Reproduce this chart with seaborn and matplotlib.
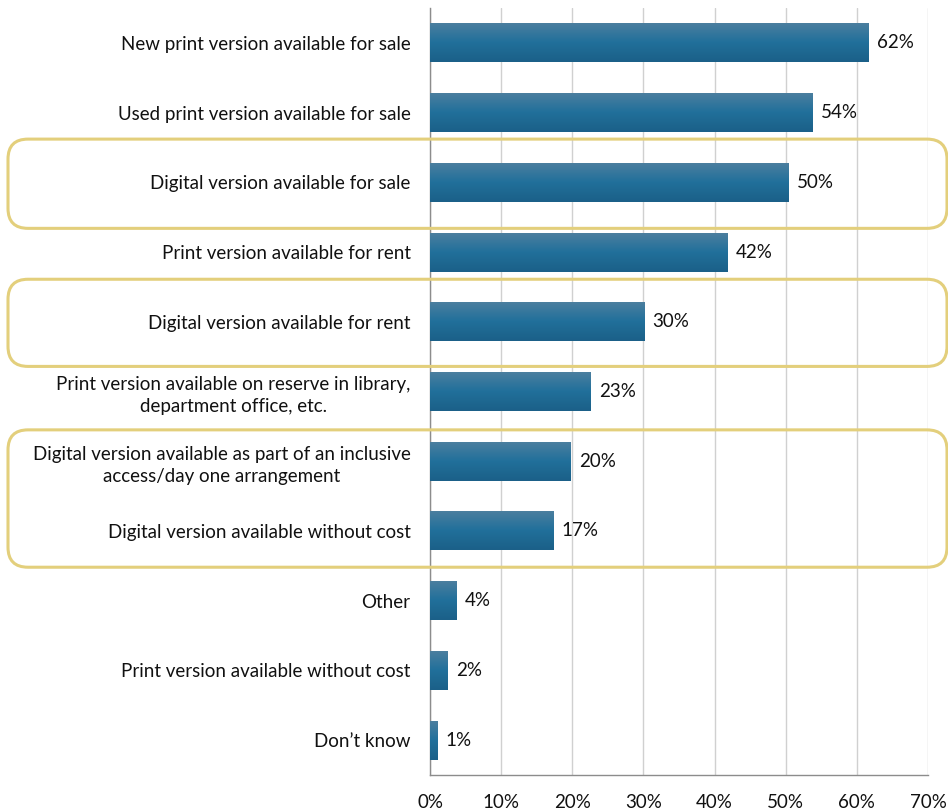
import matplotlib
matplotlib.use('Agg')
import numpy as np
import pandas as pd
import matplotlib.pyplot as plt
from matplotlib.patches import FancyBboxPatch
from matplotlib.colors import LinearSegmentedColormap
import seaborn as sns

# --- data ---
categories = [
    "New print version available for sale",
    "Used print version available for sale",
    "Digital version available for sale",
    "Print version available for rent",
    "Digital version available for rent",
    "Print version available on reserve in library,\ndepartment office, etc.",
    "Digital version available as part of an inclusive\naccess/day one arrangement",
    "Digital version available without cost",
    "Other",
    "Print version available without cost",
    "Don\u2019t know",
]
values = [61.7, 53.7, 50.4, 41.8, 30.1, 22.6, 19.7, 17.3, 3.7, 2.4, 1.0]
value_labels = ["62%", "54%", "50%", "42%", "30%", "23%", "20%", "17%", "4%", "2%", "1%"]
x_ticks = [0, 10, 20, 30, 40, 50, 60, 70]
# categories that get a gold rounded frame (by index)
highlight_groups = [[2], [4], [6, 7]]

df = pd.DataFrame({"category": categories, "value": values})

sns.set_style("white")
plt.rcParams["font.family"] = ["Lato", "DejaVu Sans"]
FS = 13.5

fig = plt.figure(figsize=(9.48, 8.10), dpi=100)
ax = fig.add_axes([0.4536, 0.0432, 0.5253, 0.9469])

sns.barplot(data=df, y="category", x="value", orient="h", width=0.56,
            color="#26709a", ax=ax, zorder=3)

# vertical gradient fill for each bar, like the original
grad = LinearSegmentedColormap.from_list("bar", ["#4d7f9f", "#21709b", "#1b6088"])
img = np.linspace(0, 1, 64).reshape(-1, 1)
for p in ax.patches:
    bb = p.get_bbox()
    p.set_facecolor("none")
    p.set_edgecolor("none")
    im = ax.imshow(img, cmap=grad, aspect="auto", zorder=3,
                   extent=[bb.x0, bb.x1, bb.y1, bb.y0], interpolation="bilinear")
    im.set_clip_path(p)

ax.set_xlim(0, 70)
ax.set_ylim(len(categories) - 0.5, -0.5)
ax.set_xticks(x_ticks)
ax.set_xticklabels([f"{t}%" for t in x_ticks])
ax.set_xlabel("")
ax.set_ylabel("")

# value labels
for i, (v, lab) in enumerate(zip(values, value_labels)):
    ax.text(v + 1.2, i, lab, va="center", ha="left", fontsize=FS, color="#111111", zorder=4)

# grid and spines
ax.grid(axis="x", color="#d0d0d0", linewidth=1, zorder=0)
ax.grid(axis="y", visible=False)
for s in ["top", "right"]:
    ax.spines[s].set_visible(False)
for s in ["left", "bottom"]:
    ax.spines[s].set_color("#8c8c8c")
    ax.spines[s].set_linewidth(1)

ax.tick_params(axis="y", which="major", length=0, pad=14, labelsize=FS, labelcolor="#111111")
ax.set_yticks(np.arange(-0.5, len(categories), 1.0), minor=True)
ax.tick_params(axis="y", which="minor", length=6, color="#8c8c8c", direction="out")
ax.tick_params(axis="x", which="major", length=6, color="#8c8c8c", direction="out",
               pad=8, labelsize=FS, labelcolor="#111111")
for t in ax.get_yticklabels():
    t.set_multialignment("center")
    t.set_linespacing(1.35)

# gold rounded frames, drawn in figure coordinates
W, H = fig.get_size_inches() * fig.dpi
pads = {0: (0.62, 0.66), 1: (0.61, 0.64), 2: (0.45, 0.52)}
x0_px, x1_px = 8, 947
for k, grp in enumerate(highlight_groups):
    top_px = ax.transData.transform((0, min(grp) - pads[k][0]))[1]
    bot_px = ax.transData.transform((0, max(grp) + pads[k][1]))[1]
    box = FancyBboxPatch((x0_px / W, bot_px / H), (x1_px - x0_px) / W, (top_px - bot_px) / H,
                         boxstyle="round,pad=0,rounding_size=%f" % (20 / W),
                         mutation_aspect=W / H,
                         transform=fig.transFigure, fill=False, edgecolor="#e3cf7c",
                         linewidth=2.2, clip_on=False, zorder=5)
    fig.patches.append(box)

fig.savefig("out.png", dpi=100)
